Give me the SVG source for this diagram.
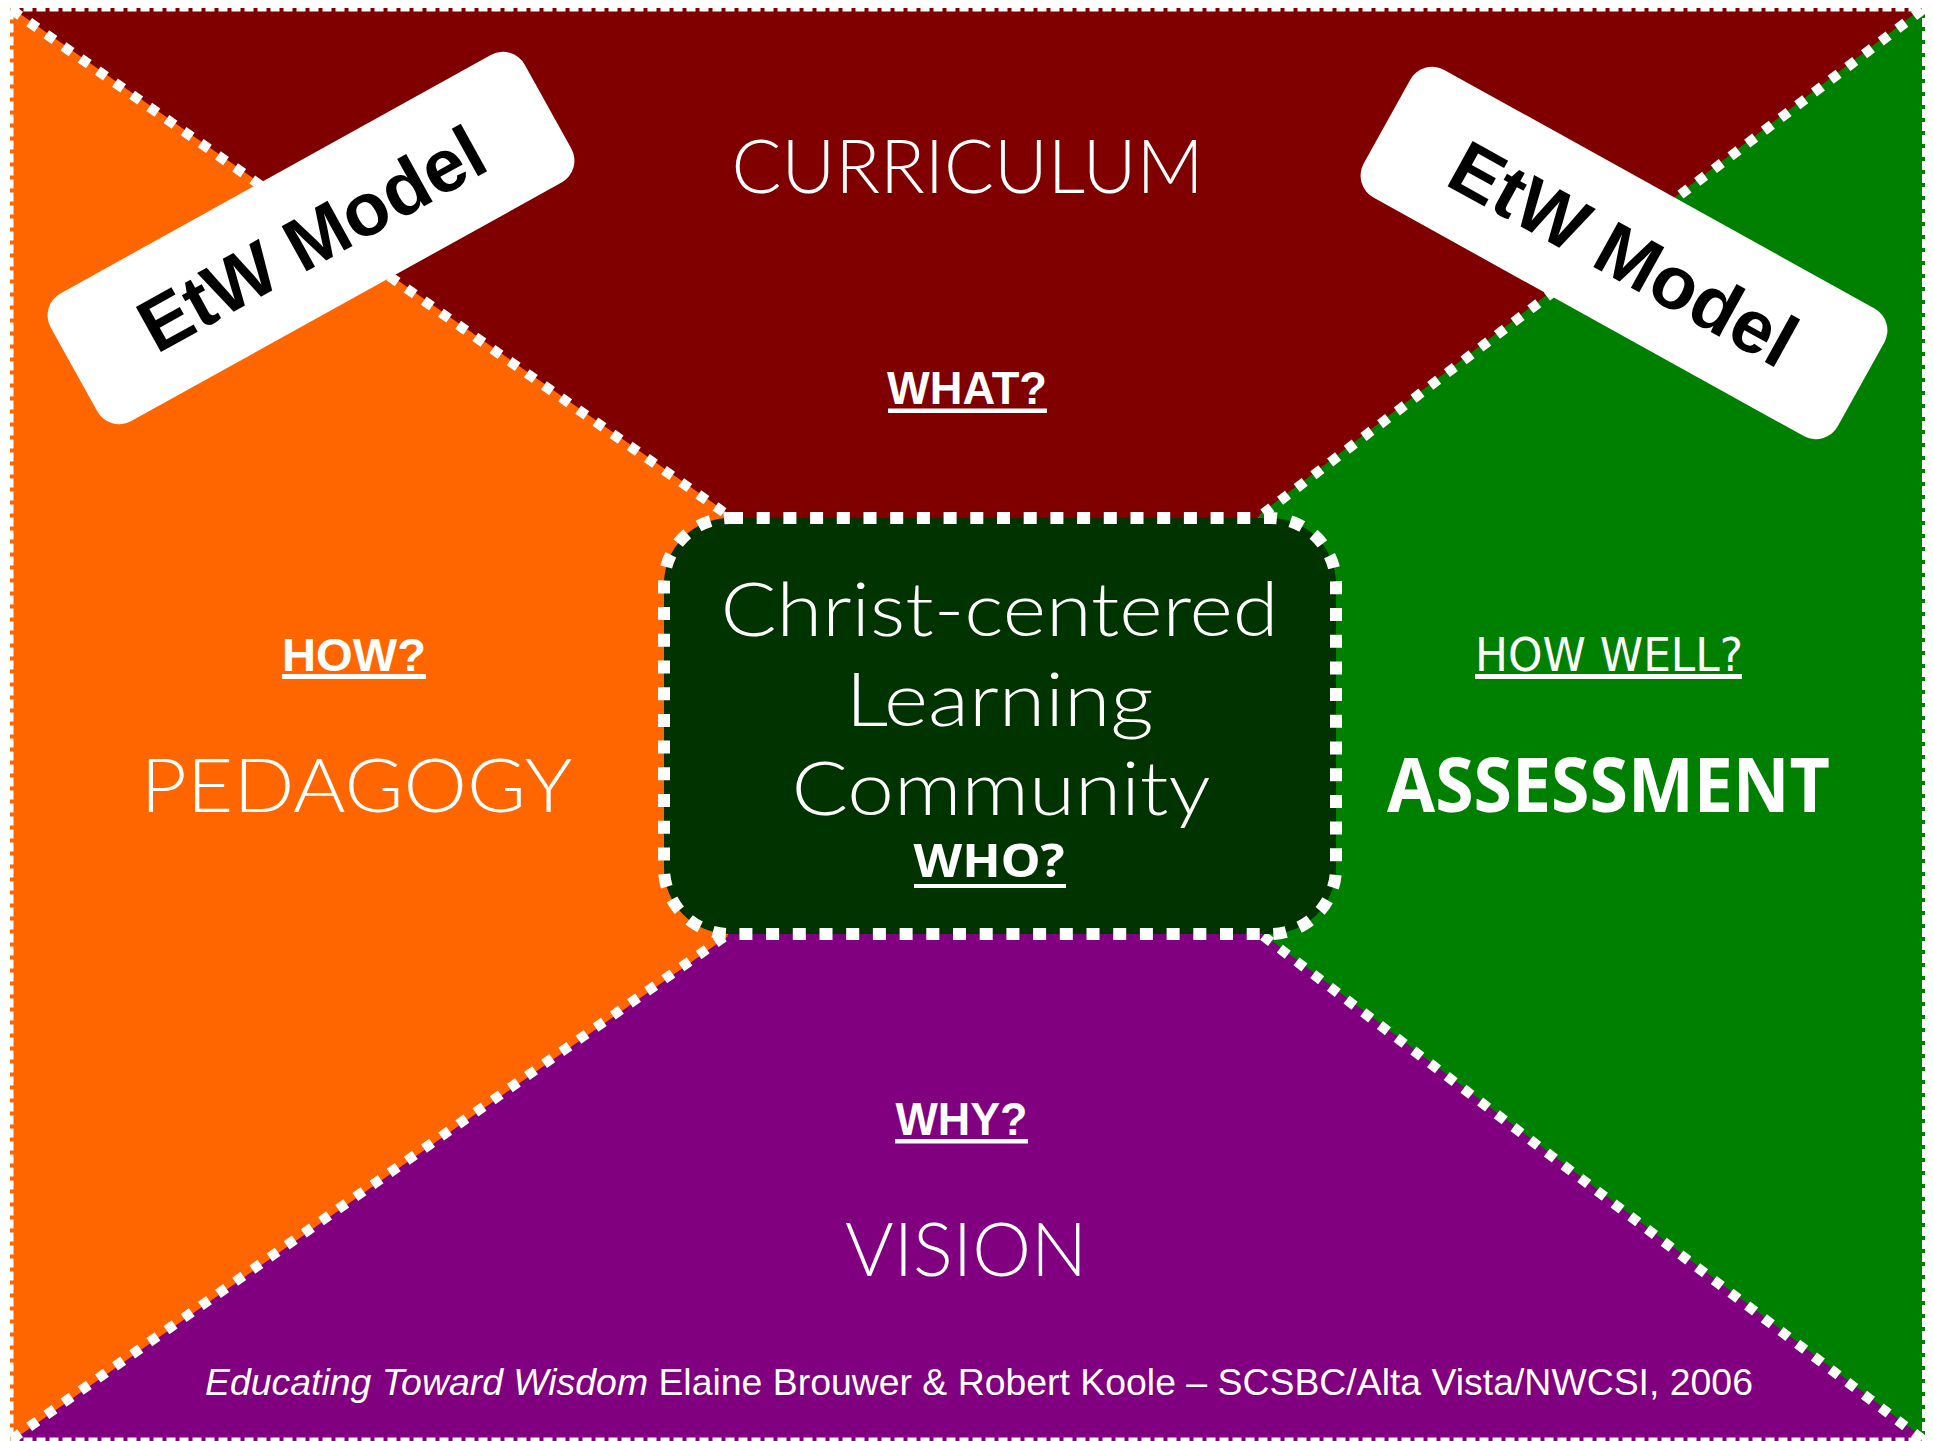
<svg xmlns="http://www.w3.org/2000/svg" width="1933" height="1441" viewBox="0 0 1933 1441">
<style>
.thin{font-family:"Lato","Open Sans",sans-serif;font-weight:300;fill:#fff;text-anchor:middle}
.q{font-family:"Liberation Sans",Arial,sans-serif;font-weight:700;fill:#fff;text-anchor:middle;font-size:47px}
.ul{fill:#fff}
.div{fill:none;stroke:#fff;stroke-width:10;stroke-dasharray:10 11}
.etw{font-family:"Liberation Sans",Arial,sans-serif;font-weight:700;font-size:75px;fill:#000;text-anchor:middle}
.foot{font-family:"Liberation Sans",Arial,sans-serif;font-size:37.4px;fill:#fff}
</style>
<rect x="0" y="0" width="1933" height="1441" fill="#fff"/>
<g id="curriculum">
<polygon points="10,8 1925,8 1260,516 999,726 729,516" fill="#800000"/>
<text class="thin" x="967.5" y="193" font-size="75" textLength="472" lengthAdjust="spacingAndGlyphs">CURRICULUM</text>
<text class="q" x="967" y="404" textLength="160" lengthAdjust="spacingAndGlyphs">WHAT?</text>
<rect class="ul" x="888" y="408.5" width="159" height="4.5"/>
</g>
<g id="assessment">
<polygon points="1925,8 1925,1441 1262,935 999,726 1260,516" fill="#008000"/>
<text class="q" x="1609" y="671" style="font-family:'DejaVu Sans',Verdana,sans-serif;font-weight:400" textLength="268" lengthAdjust="spacingAndGlyphs">HOW WELL?</text>
<rect class="ul" x="1475" y="674" width="267" height="5"/>
<text x="1608.5" y="812" font-family="'Open Sans',sans-serif" font-weight="700" font-size="75" fill="#fff" text-anchor="middle" textLength="443" lengthAdjust="spacingAndGlyphs">ASSESSMENT</text>
</g>
<g id="vision">
<polygon points="1925,1441 10,1441 727,935 999,726 1262,935" fill="#800080"/>
<text class="q" x="961.5" y="1135" textLength="132" lengthAdjust="spacingAndGlyphs">WHY?</text>
<rect class="ul" x="895" y="1139" width="133" height="4.5"/>
<text class="thin" x="966" y="1276" font-size="74" textLength="242" lengthAdjust="spacingAndGlyphs">VISION</text>
<text class="foot" x="205" y="1395"><tspan font-style="italic">Educating Toward Wisdom</tspan> Elaine Brouwer &amp; Robert Koole – SCSBC/Alta Vista/NWCSI, 2006</text>
</g>
<g id="pedagogy">
<polygon points="10,1441 10,8 729,516 999,726 727,935" fill="#FF6600"/>
<text class="q" x="354" y="671" textLength="144" lengthAdjust="spacingAndGlyphs">HOW?</text>
<rect class="ul" x="282" y="674" width="144" height="5"/>
<text class="thin" x="356.5" y="812" font-size="75" textLength="432" lengthAdjust="spacingAndGlyphs">PEDAGOGY</text>
</g>
<g id="connectors">
<line x1="12" y1="10" x2="729" y2="516" stroke="#FF6600" stroke-width="3"/>
<line x1="1922" y1="10" x2="1260" y2="516" stroke="#008000" stroke-width="3"/>
<line x1="12" y1="1439" x2="727" y2="935" stroke="#FF6600" stroke-width="3"/>
<line x1="1922" y1="1439" x2="1262" y2="935" stroke="#800080" stroke-width="3"/>
<line class="div" x1="12" y1="10" x2="729" y2="516"/>
<line class="div" x1="1922" y1="10" x2="1260" y2="516"/>
<line class="div" x1="12" y1="1439" x2="727" y2="935"/>
<line class="div" x1="1922" y1="1439" x2="1262" y2="935"/>
</g>
<g id="community">
<rect x="664" y="518" width="672" height="416" rx="66" ry="66" fill="#003300" stroke="#fff" stroke-width="12" stroke-dasharray="13 13.7"/>
<text class="thin" x="999.5" y="636" font-size="75" textLength="558" lengthAdjust="spacingAndGlyphs">Christ-centered</text>
<text class="thin" x="999.5" y="726" font-size="75" textLength="308" lengthAdjust="spacingAndGlyphs">Learning</text>
<text class="thin" x="1001" y="815" font-size="75" textLength="419" lengthAdjust="spacingAndGlyphs">Community</text>
<text x="989" y="877" font-family="'Noto Sans',sans-serif" font-weight="700" font-size="47" fill="#fff" text-anchor="middle" textLength="151" lengthAdjust="spacingAndGlyphs">WHO?</text>
<rect class="ul" x="914" y="884" width="152" height="4"/>
</g>
<g id="etw-left" transform="translate(311,238) rotate(-29)">
<rect x="-271" y="-73" width="542" height="146" rx="25" ry="25" fill="#fff"/>
<text class="etw" x="0" y="27">EtW Model</text>
</g>
<g id="etw-right" transform="translate(1624,253) rotate(29)">
<rect x="-271" y="-73" width="542" height="146" rx="25" ry="25" fill="#fff"/>
<text class="etw" x="0" y="27">EtW Model</text>
</g>
<rect id="frame" x="10.5" y="8.5" width="1914.5" height="1432" fill="none" stroke="#fff" stroke-width="6" stroke-dasharray="9 4"/>
</svg>
